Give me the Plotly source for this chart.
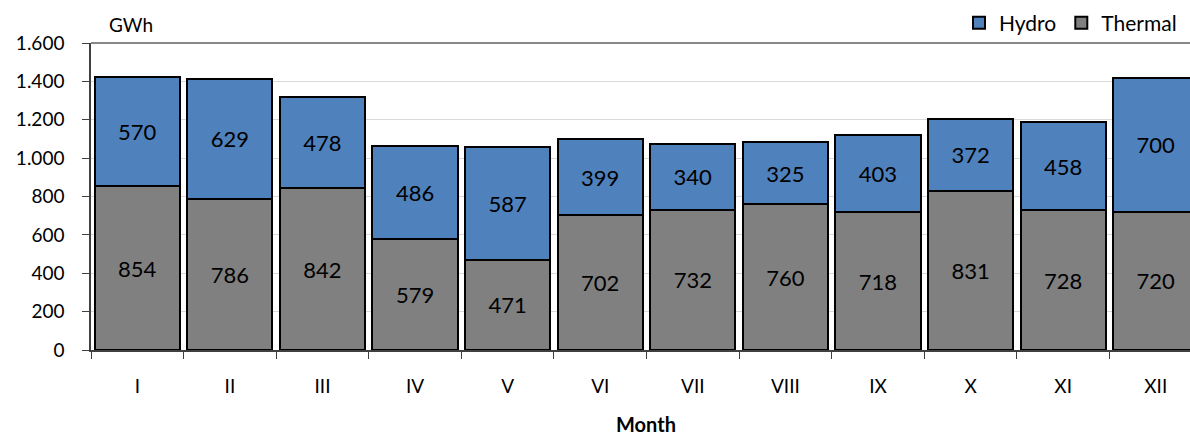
import plotly.graph_objects as go

months = ["I", "II", "III", "IV", "V", "VI", "VII", "VIII", "IX", "X", "XI", "XII"]
thermal = [854, 786, 842, 579, 471, 702, 732, 760, 718, 831, 728, 720]
hydro = [570, 629, 478, 486, 587, 399, 340, 325, 403, 372, 458, 700]
y_ticks = [0, 200, 400, 600, 800, 1000, 1200, 1400, 1600]

FONT = "Lato"
W, H = 1190, 436
ML, MT, MR = 91, 43, 0
MB = H - 350
PH = H - MT - MB
PW = W - ML - MR


def px(sx):
    return (sx - ML) / PW


def py(sy):
    return (350 - sy) / PH


fig = go.Figure()
for name, vals, col in [("Thermal", thermal, "#808080"), ("Hydro", hydro, "#4F81BD")]:
    fig.add_trace(go.Bar(
        x=months, y=vals, name=name,
        marker=dict(color=col, line=dict(color="#000000", width=2)),
        text=vals, textposition="inside", insidetextanchor="middle",
        textfont=dict(family=FONT, size=22, color="#000000"),
        texttemplate="%{text}", textangle=0,
    ))

fig.update_layout(
    width=W, height=H,
    margin=dict(l=ML, r=MR, t=MT, b=MB, pad=0, autoexpand=False),
    barmode="stack", bargap=0.08,
    plot_bgcolor="white", paper_bgcolor="white",
    separators=",.",
    font=dict(family=FONT, size=19, color="#000000"),
    legend=dict(
        orientation="h", traceorder="reversed",
        xref="container", yref="container",
        x=1182 / W, xanchor="right", y=1 - 23 / H, yanchor="middle",
        font=dict(family=FONT, size=21, color="#000000"),
        bgcolor="rgba(0,0,0,0)", itemwidth=30,
    ),
    showlegend=True,
)

fig.update_xaxes(
    type="category", range=[-0.5, 11.37], automargin=False,
    showline=True, linecolor="#404040", linewidth=1.5,
    ticks="outside", tickson="boundaries", ticklen=7, tickcolor="#404040",
    tickfont=dict(family=FONT, size=19, color="#000000"),
    ticklabelstandoff=18,
    showgrid=False,
)
fig.update_yaxes(
    range=[0, 1600], tickvals=y_ticks, tickformat=",d", automargin=False,
    showline=True, linecolor="#404040", linewidth=1.5,
    ticks="outside", ticklen=7, tickcolor="#404040",
    tickfont=dict(family=FONT, size=19, color="#000000"),
    ticklabelstandoff=14,
    showgrid=True, gridcolor="#D9D9D9", gridwidth=1,
    zeroline=False,
)

# top border line of plot area
fig.add_shape(type="line", xref="paper", yref="paper", x0=0, x1=1, y0=1, y1=1,
              line=dict(color="#888888", width=2))

fig.add_annotation(text="GWh", xref="paper", yref="paper",
                   x=px(131), y=py(25),
                   xanchor="center", yanchor="middle", showarrow=False,
                   font=dict(family=FONT, size=19, color="#000000"))
fig.add_annotation(text="<b>Month</b>", xref="paper", yref="paper",
                   x=px(646), y=py(424),
                   xanchor="center", yanchor="middle", showarrow=False,
                   font=dict(family=FONT, size=20, color="#000000"))

fig.write_html(
    "out.html",
    config={"displayModeBar": False},
    post_script="document.body.style.margin='0';document.body.style.overflow='hidden';",
)
